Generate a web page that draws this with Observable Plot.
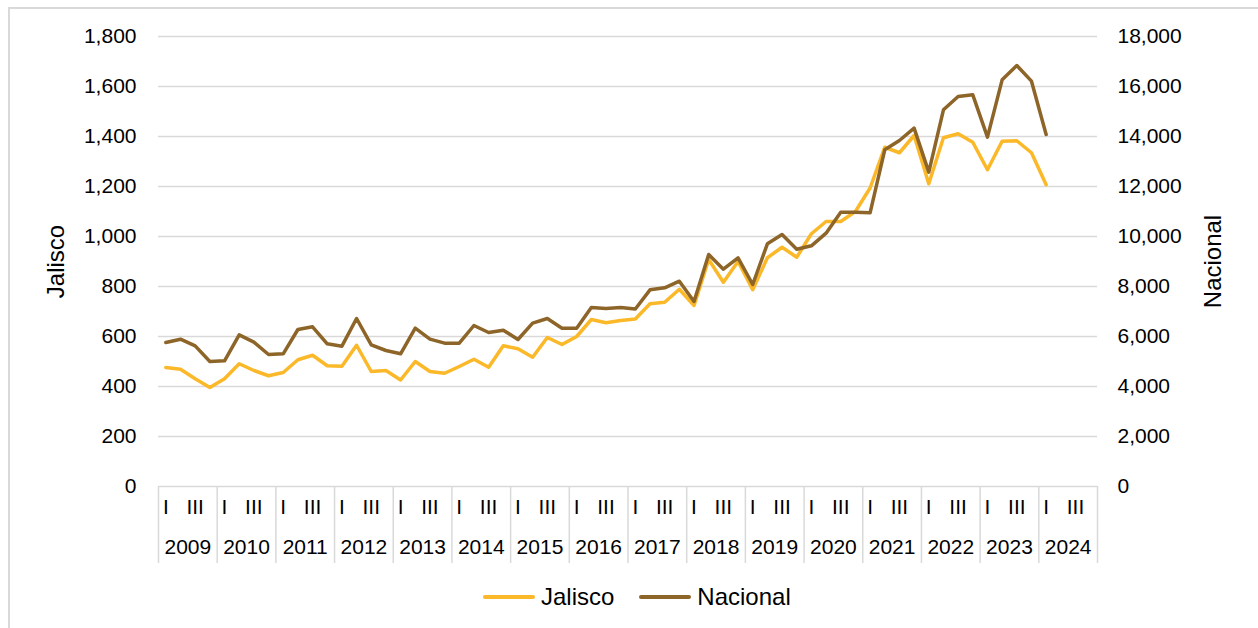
<!DOCTYPE html>
<html>
<head>
<meta charset="utf-8">
<script src="https://cdn.jsdelivr.net/npm/d3@7"></script>
<script src="https://cdn.jsdelivr.net/npm/@observablehq/plot@0.6"></script>
<style>
  html, body { margin: 0; padding: 0; background: #fff; }
  body { width: 1258px; height: 628px; overflow: hidden; position: relative; font-family: "Liberation Sans", Arial, sans-serif; }
  #frame { position: absolute; left: 8px; top: 7px; width: 1300px; height: 700px; border-left: 2px solid #d9d9d9; border-top: 2px solid #d9d9d9; }
  #chart { position: absolute; left: 0; top: 0; }
  #legend { position: absolute; left: 483px; top: 584px; height: 26px; display: flex; align-items: center; font-size: 24px; color: #000; }
  .sw { width: 52px; height: 4px; margin-right: 6px; border-radius: 2px; }
</style>
</head>
<body>
<div id="frame"></div>
<div id="chart"></div>
<div id="legend"></div>
<script>
// ---- data ----
const years = [2009, 2010, 2011, 2012, 2013, 2014, 2015, 2016, 2017, 2018, 2019, 2020, 2021, 2022, 2023, 2024];
const quarterLabels = ["I", "", "III", ""];
const seriesNames = ["Jalisco", "Nacional"];
const seriesColors = ["#FBB829", "#8E6529"];
const leftTicks = [0, 200, 400, 600, 800, 1000, 1200, 1400, 1600, 1800];

// quarterly values, 2009-I .. 2024-I
const jalisco = [
  476, 469, 431, 396, 431, 491, 464, 443, 456, 507, 525, 483, 481, 565, 460, 464,
  426, 500, 460, 453, 480, 509, 477, 563, 551, 517, 596, 568, 600, 668, 655, 664,
  670, 731, 737, 789, 724, 908, 817, 900, 787, 915, 957, 917, 1011, 1060, 1060, 1100,
  1194, 1357, 1335, 1404, 1211, 1395, 1411, 1377, 1267, 1381, 1383, 1335, 1207
];
const nacional = [
  5760, 5893, 5627, 5000, 5027, 6067, 5773, 5280, 5307, 6280, 6387, 5707, 5613, 6720, 5667, 5440,
  5307, 6333, 5893, 5733, 5733, 6440, 6160, 6253, 5880, 6533, 6720, 6333, 6333, 7160, 7120, 7160,
  7100, 7867, 7947, 8213, 7400, 9280, 8693, 9147, 8080, 9707, 10080, 9493, 9627, 10133, 10973, 10973,
  10947, 13467, 13840, 14333, 12573, 15067, 15600, 15667, 13973, 16267, 16840, 16213, 14080
];

// ---- build ----
const nSlots = years.length * 4;
const ratio = 10; // secondary axis = 10 x primary
const fmt = d3.format(",");
const idx = d3.range(jalisco.length);
const FS = 21;
const TFS = 24;

const plot = Plot.plot({
  width: 1258,
  height: 570,
  marginLeft: 158,
  marginRight: 161,
  marginTop: 36,
  marginBottom: 84,
  style: { fontFamily: "'Liberation Sans', Arial, sans-serif", fontSize: FS + "px", color: "#000", background: "transparent" },
  x: { type: "linear", domain: [0, nSlots], axis: null },
  y: { domain: [0, 1800], axis: null },
  marks: [
    Plot.gridY(leftTicks, { stroke: "#d9d9d9", strokeOpacity: 1, strokeWidth: 1.5 }),
    // year separators below the axis
    Plot.axisX({ ticks: d3.range(0, nSlots + 1, 4), tickSize: 77, tickFormat: () => "", stroke: "#d9d9d9", strokeOpacity: 1, strokeWidth: 1.5, label: null }),
    // quarter labels
    Plot.axisX({ ticks: d3.range(nSlots).map(i => i + 0.5), tickSize: 0, tickPadding: 13, tickFormat: d => quarterLabels[Math.floor(d) % 4], fontSize: FS, fill: "#000", label: null }),
    // year labels
    Plot.axisX({ ticks: years.map((y, i) => i * 4 + 2), tickSize: 0, tickPadding: 53, tickFormat: d => String(years[Math.round((d - 2) / 4)]), fontSize: FS, fill: "#000", label: null }),
    // left axis
    Plot.axisY({ anchor: "left", ticks: leftTicks, tickSize: 0, tickPadding: 22, tickFormat: fmt, fontSize: FS, fill: "#000", label: null }),
    // right axis
    Plot.axisY({ anchor: "right", ticks: leftTicks, tickSize: 0, tickPadding: 20, tickFormat: d => fmt(d * ratio), fontSize: FS, fill: "#000", label: null }),
    // axis titles
    Plot.text([seriesNames[0]], { frameAnchor: "left", dx: -102, rotate: -90, textAnchor: "middle", text: d => d, fontSize: TFS, fill: "#000" }),
    Plot.text([seriesNames[1]], { frameAnchor: "right", dx: 116, rotate: -90, textAnchor: "middle", text: d => d, fontSize: TFS, fill: "#000" }),
    // series
    Plot.line(idx, { x: i => i + 0.5, y: i => jalisco[i], stroke: seriesColors[0], strokeWidth: 3.5, strokeLinejoin: "round", strokeLinecap: "round" }),
    Plot.line(idx, { x: i => i + 0.5, y: i => nacional[i] / ratio, stroke: seriesColors[1], strokeWidth: 3.5, strokeLinejoin: "round", strokeLinecap: "round" })
  ]
});
document.getElementById("chart").appendChild(plot);

// legend
const legend = document.getElementById("legend");
seriesNames.forEach((name, k) => {
  const sw = document.createElement("div");
  sw.className = "sw";
  sw.style.background = seriesColors[k];
  if (k > 0) sw.style.marginLeft = "25px";
  const tx = document.createElement("span");
  tx.textContent = name;
  legend.appendChild(sw);
  legend.appendChild(tx);
});
</script>
</body>
</html>
